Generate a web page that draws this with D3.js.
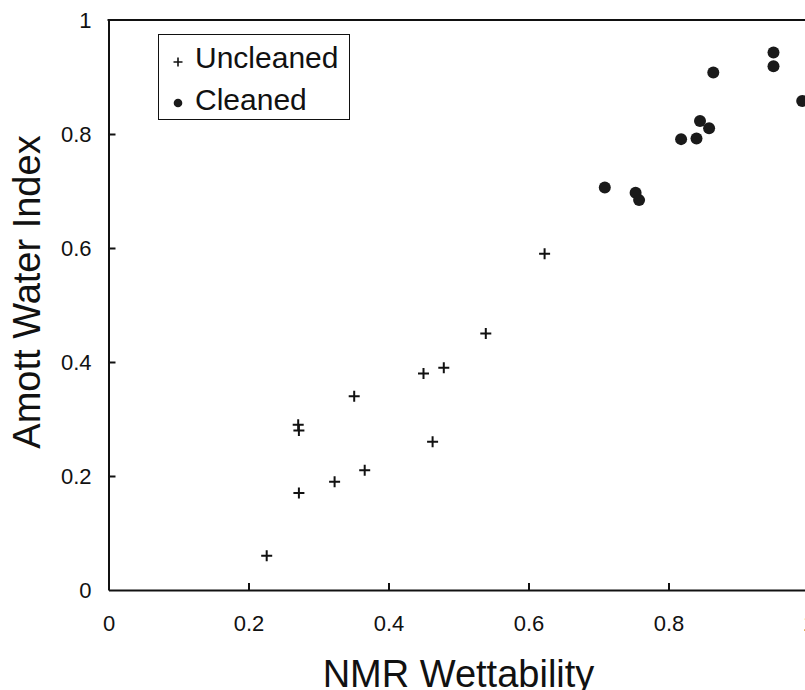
<!DOCTYPE html>
<html>
<head>
<meta charset="utf-8">
<script src="https://cdn.jsdelivr.net/npm/d3@7"></script>
<style>
  html, body { margin: 0; padding: 0; background: #fff; overflow: hidden; }
  svg { display: block; font-family: "Liberation Sans", Arial, Helvetica, sans-serif; }
</style>
</head>
<body>
<svg id="chart" width="805" height="690"></svg>
<script>
// ---- data ----
const uncleanedX = [0.623, 0.539, 0.450, 0.479, 0.351, 0.271, 0.272, 0.463, 0.366, 0.323, 0.272, 0.226];
const uncleanedY = [0.59, 0.45, 0.38, 0.39, 0.34, 0.29, 0.28, 0.26, 0.21, 0.19, 0.17, 0.06];
const cleanedX = [0.950, 0.950, 0.864, 0.991, 0.845, 0.858, 0.818, 0.840, 0.709, 0.753, 0.758];
const cleanedY = [0.943, 0.919, 0.908, 0.858, 0.823, 0.810, 0.791, 0.792, 0.706, 0.697, 0.684];
const xTicks = [0, 0.2, 0.4, 0.6, 0.8, 1];
const xTickLabels = ["0", "0.2", "0.4", "0.6", "0.8", "1"];
const yTicks = [0, 0.2, 0.4, 0.6, 0.8, 1];
const yTickLabels = ["0", "0.2", "0.4", "0.6", "0.8", "1"];
const seriesNames = ["Uncleaned", "Cleaned"];
const xTitle = "NMR Wettability";
const yTitle = "Amott Water Index";

// ---- layout ----
const svg = d3.select("#chart");
const pLeft = 108.5, pRight = 808.5, pTop = 20, pBottom = 590;
const x = d3.scaleLinear().domain([0, 1]).range([pLeft, pRight]);
const y = d3.scaleLinear().domain([0, 1]).range([pBottom, pTop]);
const ink = "#111";

// axes
const xAxis = d3.axisBottom(x)
  .tickValues(xTicks)
  .tickFormat((d, i) => xTickLabels[i])
  .tickSizeInner(-7).tickSizeOuter(0).tickPadding(25);
const yAxis = d3.axisLeft(y)
  .tickValues(yTicks)
  .tickFormat((d, i) => yTickLabels[i])
  .tickSizeInner(-7).tickSizeOuter(0).tickPadding(17);

const gx = svg.append("g").attr("transform", `translate(0,${pBottom})`).call(xAxis);
const gy = svg.append("g").attr("transform", `translate(${pLeft},0)`).call(yAxis);
[gx, gy].forEach(g => {
  g.select(".domain").attr("stroke", ink).attr("stroke-width", 2);
  g.selectAll(".tick line").attr("stroke", ink).attr("stroke-width", 2);
  g.selectAll(".tick text").attr("fill", ink).style("font-size", "22px")
    .style("font-family", "'Liberation Sans', Arial, Helvetica, sans-serif");
});
gx.selectAll(".tick").filter(d => d === 0).select("line").remove();
gy.selectAll(".tick").filter(d => d === 0 || d === 1).select("line").remove();

// top and right frame lines
svg.append("line").attr("x1", pLeft - 1).attr("x2", pRight).attr("y1", pTop).attr("y2", pTop)
  .attr("stroke", ink).attr("stroke-width", 2);
svg.append("line").attr("x1", pRight).attr("x2", pRight).attr("y1", pTop).attr("y2", pBottom)
  .attr("stroke", ink).attr("stroke-width", 2);

// titles
svg.append("text")
  .attr("x", (pLeft + pRight) / 2).attr("y", 687)
  .attr("text-anchor", "middle")
  .style("font-size", "38px").attr("fill", ink)
  .text(xTitle);
svg.append("text")
  .attr("transform", `translate(40,292) rotate(-90)`)
  .attr("text-anchor", "middle")
  .style("font-size", "38px").attr("fill", ink)
  .text(yTitle);

// cross marker path
const crossPath = s => `M${-s},0H${s}M0,${-s}V${s}`;

// uncleaned points
const uncleaned = uncleanedX.map((v, i) => ({ x: v, y: uncleanedY[i] }));
svg.append("g").selectAll("path").data(uncleaned).join("path")
  .attr("transform", d => `translate(${x(d.x)},${y(d.y)})`)
  .attr("d", crossPath(5.5))
  .attr("stroke", ink).attr("stroke-width", 2).attr("fill", "none");

// cleaned points
const cleaned = cleanedX.map((v, i) => ({ x: v, y: cleanedY[i] }));
svg.append("g").selectAll("circle").data(cleaned).join("circle")
  .attr("cx", d => x(d.x)).attr("cy", d => y(d.y)).attr("r", 6)
  .attr("fill", "#1a1a1a");

// legend
const lg = svg.append("g");
lg.append("rect").attr("x", 158.5).attr("y", 34.5).attr("width", 191).attr("height", 85)
  .attr("fill", "#fff").attr("stroke", ink).attr("stroke-width", 1);
lg.append("path").attr("transform", "translate(178,62)").attr("d", crossPath(4.5))
  .attr("stroke", ink).attr("stroke-width", 1.6).attr("fill", "none");
lg.append("circle").attr("cx", 178).attr("cy", 103).attr("r", 4.3).attr("fill", "#1a1a1a");
lg.append("text").attr("x", 195).attr("y", 68).style("font-size", "30px").attr("fill", ink).text(seriesNames[0]);
lg.append("text").attr("x", 195).attr("y", 110).style("font-size", "30px").attr("fill", ink).text(seriesNames[1]);
</script>
</body>
</html>
